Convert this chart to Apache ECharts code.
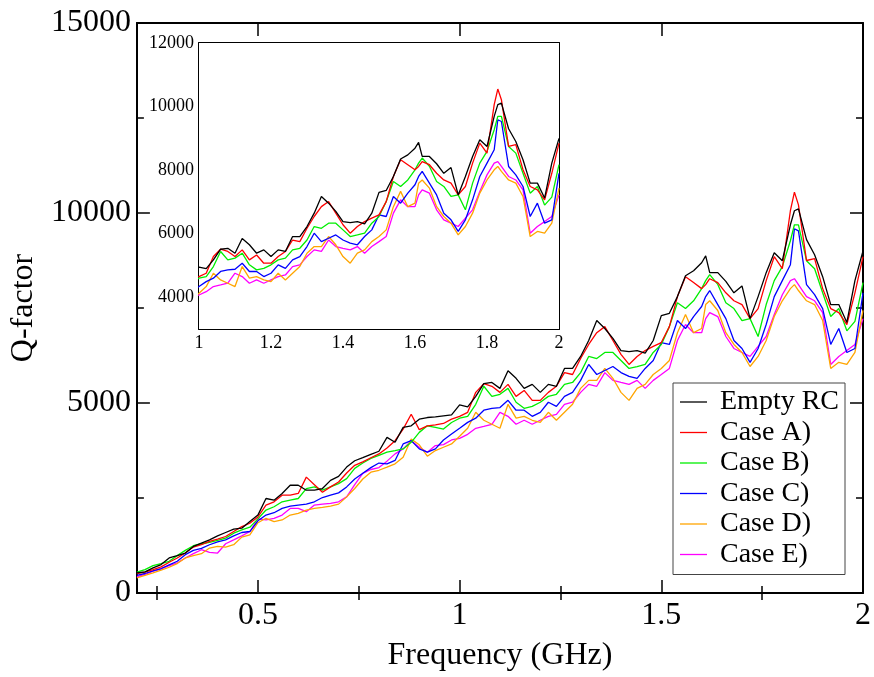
<!DOCTYPE html>
<html>
<head>
<meta charset="utf-8">
<title>Q-factor vs frequency</title>
<script src="https://cdn.jsdelivr.net/npm/echarts@6/dist/echarts.min.js"></script>
<style>
  html, body { margin: 0; padding: 0; background: #fff; }
  #chart { width: 874px; height: 677px; }
</style>
</head>
<body>
<div id="chart"></div>
<script>
// Frequency samples (GHz)
const freq = [
  0.20,0.22,0.24,0.26,0.28,0.30,0.32,0.34,0.36,0.38,
  0.40,0.42,0.44,0.46,0.48,0.50,0.52,0.54,0.56,0.58,
  0.60,0.62,0.64,0.66,0.68,0.70,0.72,0.74,0.76,0.78,
  0.80,0.82,0.84,0.86,0.88,0.90,0.92,0.94,0.96,0.98,
  1.00,1.02,1.04,1.06,1.08,1.10,1.12,1.14,1.16,1.18,
  1.20,1.22,1.24,1.26,1.28,1.30,1.32,1.34,1.36,1.38,
  1.40,1.42,1.44,1.46,1.48,1.50,1.52,1.54,1.56,1.58,
  1.60,1.61,1.62,1.64,1.66,1.68,1.70,1.72,1.74,1.76,
  1.78,1.80,1.82,1.83,1.84,1.86,1.88,1.90,1.92,1.94,
  1.96,1.98,2.00
];

// Q-factor for each configuration
const emptyRC = [
  530,557,661,748,922,983,1052,1226,1313,1400,
  1505,1592,1679,1705,1879,2050,2487,2444,2618,2835,
  2835,2705,2705,2748,2965,3070,3313,3480,3560,3650,
  3730,4096,3966,4357,4400,4575,4618,4635,4662,4688,
  4950,4900,5175,5510,5540,5385,5850,5650,5385,5490,
  5280,5490,5440,5910,5910,6225,6645,7170,6960,6700,
  6380,6350,6380,6310,6645,7300,7360,7800,8350,8480,
  8690,8870,8430,8430,8200,7900,8080,7220,7800,8430,
  8955,8745,9690,10060,10110,9300,8900,8325,7590,7590,
  7120,8220,9000
];
const caseA = [
  513,548,617,687,809,922,1052,1209,1270,1357,
  1418,1487,1618,1748,1835,2000,2313,2400,2574,2574,
  2620,3050,2850,2650,2792,2922,3157,3360,3450,3560,
  3660,3818,4009,4313,4705,4300,4400,4427,4461,4575,
  4650,4755,5280,5510,5440,5280,5490,5175,5330,5070,
  5070,5280,5440,5800,5750,6170,6540,6850,7010,6645,
  6280,6015,6225,6380,6490,6590,7010,7800,8325,8170,
  8010,8115,8270,8170,7900,7690,7590,7220,7485,8220,
  8850,8535,10060,10550,10215,8750,8800,8010,7485,7380,
  7065,7900,8850
];
const caseB = [
  548,617,722,774,835,983,1122,1244,1296,1331,
  1383,1444,1574,1661,1731,1950,2183,2270,2400,2444,
  2487,2748,2792,2705,2792,2878,3009,3280,3420,3540,
  3620,3705,3748,3792,3966,4227,4400,4357,4313,4487,
  4600,4650,4965,5440,5175,5230,5385,5020,4860,4910,
  5020,5175,5230,5490,5540,5800,6225,6170,6330,6330,
  6120,5910,5960,6015,6330,6540,7010,7640,7485,7690,
  8010,8220,8380,8120,7640,7485,7170,7220,6750,7590,
  8220,8590,9270,9690,9690,8745,8535,7900,7275,7485,
  6900,7150,8170
];
const caseC = [
  461,513,583,644,739,835,1009,1122,1174,1270,
  1348,1400,1505,1592,1618,1900,2052,2113,2226,2287,
  2313,2339,2400,2513,2574,2635,2792,3000,3150,3300,
  3420,3400,3488,3922,4009,3792,3705,3792,4027,4183,
  4335,4490,4600,4810,4860,4880,5070,4810,4810,4650,
  4755,5020,4910,5175,5280,5595,6015,5750,5855,5960,
  5800,5700,5650,5910,6120,6590,6540,7170,6960,7275,
  7540,7800,7960,7590,7220,6645,6435,6070,6435,7065,
  7800,8220,8640,9585,9530,8115,7850,7485,6540,6960,
  6330,6435,7900
];
const caseD = [
  400,461,530,600,678,774,922,983,1035,1183,
  1226,1209,1270,1470,1530,1850,1966,1879,1922,2052,
  2096,2183,2226,2252,2287,2339,2530,2750,3000,3180,
  3230,3313,3400,3574,4050,3900,3600,3748,3835,3922,
  4125,4335,4755,4545,4440,4335,4965,4600,4650,4545,
  4490,4755,4545,4755,4965,5385,5595,5595,5910,5650,
  5280,5070,5385,5490,5750,5910,6120,6850,7330,6850,
  6960,7590,7690,7435,6850,6540,6330,5960,6225,6645,
  7275,7690,8010,8115,7960,7690,7590,7170,5910,6070,
  6015,6330,7435
];
const caseE = [
  426,487,574,635,722,791,922,1035,1139,1070,
  1052,1296,1400,1505,1618,1950,1922,1966,2052,2226,
  2226,2140,2313,2339,2357,2400,2530,2850,3150,3250,
  3300,3470,3661,3792,4009,3835,3705,3879,3905,4027,
  4070,4175,4335,4385,4440,4755,4650,4440,4545,4440,
  4545,4650,4700,4965,5020,5280,5490,5440,5800,5595,
  5540,5490,5595,5385,5595,5750,5910,6645,7065,6850,
  6850,7220,7380,7275,6750,6435,6330,6225,6490,6750,
  7330,7850,8220,8270,8115,7800,7690,7380,6015,6225,
  6380,6540,7220
];

const seriesNames = ['Empty RC', 'Case A)', 'Case B)', 'Case C)', 'Case D)', 'Case E)'];
const seriesValues = [emptyRC, caseA, caseB, caseC, caseD, caseE];
const seriesColors = ['#000000', '#ff0000', '#00ee00', '#0000ff', '#ffa500', '#ff00ff'];

// Tick positions
const mainXMajor = [0.5, 1, 1.5, 2];
const mainXMinor = [0.25, 0.75, 1.25, 1.75];
const mainYMajor = [0, 5000, 10000, 15000];
const mainYMinor = [2500, 7500, 12500];
const insetXMajor = [1, 1.2, 1.4, 1.6, 1.8, 2];
const insetXMinor = [1.1, 1.3, 1.5, 1.7, 1.9];
const insetYMajor = [4000, 6000, 8000, 10000, 12000];
const insetYMinor = [5000, 7000, 9000, 11000];

const FONT = 'Liberation Serif';
const INK = '#000';

// Four axes per dimension: labelled major ticks, minor ticks, and a mirrored pair on the far side.
function makeAxes(dim, gridIndex, min, max, major, minor, labelSize, labelMargin, majorLen, minorLen, name) {
  const near = dim === 'x' ? 'bottom' : 'left';
  const far = dim === 'x' ? 'top' : 'right';
  const base = {
    type: 'value', gridIndex, min, max,
    splitLine: { show: false },
    axisLine: { show: false }
  };
  const tick = (vals, len) => ({
    show: true, inside: true, length: len, customValues: vals,
    lineStyle: { color: INK, width: 1.5 }
  });
  const list = [
    Object.assign({}, base, {
      position: near,
      axisLine: { show: true, onZero: false, lineStyle: { color: INK, width: 2 } },
      axisTick: tick(major, majorLen),
      axisLabel: {
        show: true, customValues: major, margin: labelMargin,
        fontFamily: FONT, fontSize: labelSize, color: INK,
        formatter: v => String(v)
      }
    }),
    Object.assign({}, base, {
      position: near, axisTick: tick(minor, minorLen), axisLabel: { show: false }
    }),
    Object.assign({}, base, {
      position: far,
      axisLine: { show: true, onZero: false, lineStyle: { color: INK, width: 2 } },
      axisTick: tick(major, majorLen), axisLabel: { show: false }
    }),
    Object.assign({}, base, {
      position: far, axisTick: tick(minor, minorLen), axisLabel: { show: false }
    })
  ];
  if (name) {
    Object.assign(list[0], name);
  }
  return list;
}

const xAxis = [
  ...makeAxes('x', 0, 0.2, 2, mainXMajor, mainXMinor, 32, 7, 13, 7, {
    name: 'Frequency (GHz)', nameLocation: 'middle', nameGap: 47,
    nameTextStyle: { fontFamily: FONT, fontSize: 32, color: INK }
  }),
  ...makeAxes('x', 1, 1, 2, insetXMajor, insetXMinor, 18, 5, 12, 7, null)
];
const yAxis = [
  ...makeAxes('y', 0, 0, 15000, mainYMajor, mainYMinor, 32, 6, 13, 7, {
    name: 'Q-factor', nameLocation: 'middle', nameGap: 84, nameRotate: 90,
    nameTextStyle: { fontFamily: FONT, fontSize: 32, color: INK }
  }),
  ...makeAxes('y', 1, 3000, 12000, insetYMajor, insetYMinor, 18, 5, 12, 7, null)
];

const series = [];
seriesValues.forEach((vals, k) => {
  const data = freq.map((f, i) => [f, vals[i]]);
  const common = {
    type: 'line', name: seriesNames[k], data, symbol: 'none',
    lineStyle: { color: seriesColors[k], width: 1.3 },
    itemStyle: { color: seriesColors[k] },
    emphasis: { disabled: true }, clip: true, z: 10 - k
  };
  series.push(Object.assign({}, common, { xAxisIndex: 0, yAxisIndex: 0 }));
  series.push(Object.assign({}, common, { xAxisIndex: 4, yAxisIndex: 4 }));
});

const chart = echarts.init(document.getElementById('chart'), null, { renderer: 'canvas' });
chart.setOption({
  animation: false,
  backgroundColor: '#fff',
  grid: [
    { left: 136, top: 23, width: 730, height: 574, containLabel: false },
    { left: 199, top: 43, width: 360, height: 286, containLabel: false,
      show: true, backgroundColor: '#fff', borderWidth: 0, z: 5 }
  ],
  xAxis, yAxis, series,
  legend: {
    data: seriesNames,
    orient: 'vertical', left: 673, top: 383,
    icon: 'rect', itemWidth: 27, itemHeight: 1.3, itemGap: 0.5,
    padding: [4, 6, 5, 7],
    backgroundColor: '#fff', borderColor: '#444', borderWidth: 1,
    selectedMode: false,
    textStyle: { fontFamily: FONT, fontSize: 28, color: INK, lineHeight: 30, padding: [0, 0, 0, 8] }
  }
});
</script>
</body>
</html>
